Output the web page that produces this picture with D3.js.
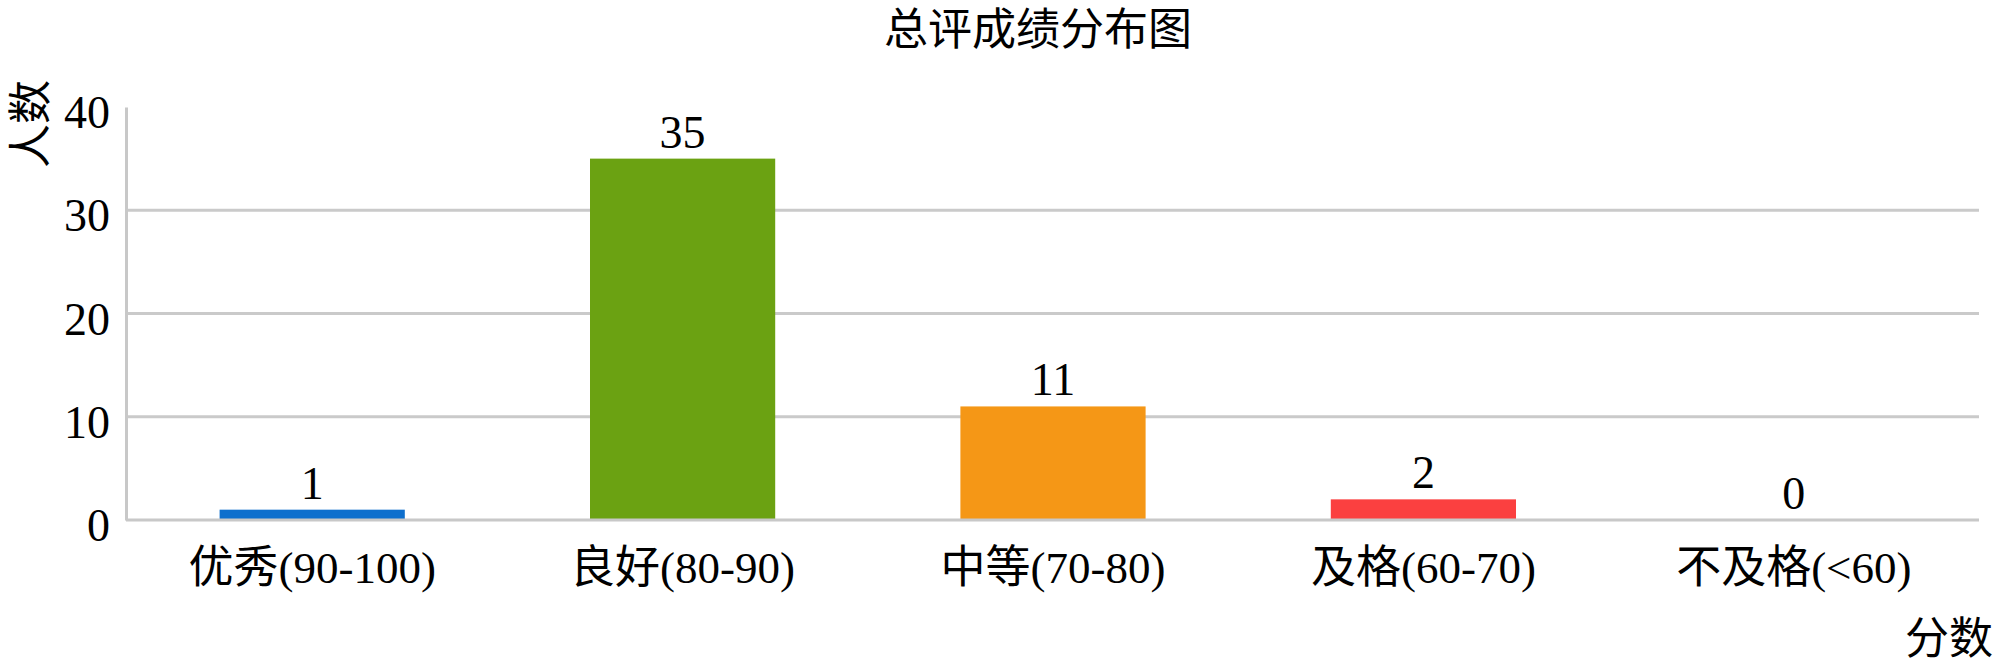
<!DOCTYPE html>
<html>
<head>
<meta charset="utf-8">
<script src="https://cdn.jsdelivr.net/npm/d3@7"></script>
<style>
  html, body { margin: 0; padding: 0; background: #fff; }
  svg { display: block; }
  text { font-family: "Liberation Serif", "Noto Sans CJK SC", serif; fill: #000; }
</style>
</head>
<body>
<svg id="chart" width="2000" height="663"></svg>
<script>
const categories = ["优秀(90-100)", "良好(80-90)", "中等(70-80)", "及格(60-70)", "不及格(<60)"];
const values = [1, 35, 11, 2, 0];
const colors = ["#0e6fcd", "#6ba212", "#f59716", "#fb4040"];
const yTicks = [0, 10, 20, 30, 40];
const title = "总评成绩分布图";
const yTitle = "人数";
const xTitle = "分数";

const svg = d3.select("#chart");
const margin = { left: 126, right: 21, top: 107, bottom: 143 };
const W = 2000, H = 663;

const x = d3.scaleBand()
  .domain(categories)
  .range([margin.left + 1, W - margin.right])
  .paddingInner(0.5)
  .paddingOuter(0.25);

const y = d3.scaleLinear()
  .domain([0, 40])
  .range([H - margin.bottom, margin.top]);

// gridlines (not at top)
svg.append("g")
  .selectAll("line")
  .data(yTicks.filter(t => t > 0 && t < 40))
  .join("line")
  .attr("x1", margin.left)
  .attr("x2", W - margin.right)
  .attr("y1", d => y(d))
  .attr("y2", d => y(d))
  .attr("stroke", "#cacaca")
  .attr("stroke-width", 3);

// y axis via d3 axis
const yAxis = svg.append("g")
  .attr("transform", `translate(${margin.left},0)`)
  .call(d3.axisLeft(y).tickValues(yTicks).tickSize(0).tickPadding(16));
yAxis.select(".domain").attr("stroke", "#c8c8c8").attr("stroke-width", 3);
yAxis.selectAll("text")
  .attr("font-size", 46)
  .attr("dy", "0.45em")
  .style("font-family", "'Liberation Serif', serif")
  .attr("fill", "#000");

// bars
svg.append("g")
  .selectAll("rect")
  .data(values)
  .join("rect")
  .attr("x", (d, i) => x(categories[i]))
  .attr("width", x.bandwidth())
  .attr("y", d => y(d))
  .attr("height", d => y(0) - y(d))
  .attr("fill", (d, i) => colors[i % colors.length]);

// baseline
svg.append("line")
  .attr("x1", margin.left)
  .attr("x2", W - margin.right)
  .attr("y1", y(0))
  .attr("y2", y(0))
  .attr("stroke", "#c8c8c8")
  .attr("stroke-width", 3);

// x axis labels via d3 axis
const xAxis = svg.append("g")
  .attr("transform", `translate(0,${y(0)})`)
  .call(d3.axisBottom(x).tickSize(0).tickPadding(31));
xAxis.select(".domain").remove();
xAxis.selectAll("text")
  .attr("font-size", 45)
  .style("font-family", "'Liberation Serif', 'Noto Sans CJK SC', serif")
  .attr("fill", "#000");

// value labels
svg.append("g")
  .selectAll("text")
  .data(values)
  .join("text")
  .attr("x", (d, i) => x(categories[i]) + x.bandwidth() / 2)
  .attr("y", d => y(d) - 11)
  .attr("text-anchor", "middle")
  .attr("font-size", 46)
  .text(d => d);

// title
svg.append("text")
  .attr("x", 1038)
  .attr("y", 45)
  .attr("text-anchor", "middle")
  .attr("font-size", 44)
  .text(title);

// y title rotated
svg.append("text")
  .attr("transform", "translate(46,124) rotate(-90)")
  .attr("text-anchor", "middle")
  .attr("font-size", 44)
  .text(yTitle);

// x title
svg.append("text")
  .attr("x", 1993)
  .attr("y", 654)
  .attr("text-anchor", "end")
  .attr("font-size", 44)
  .text(xTitle);
</script>
</body>
</html>
